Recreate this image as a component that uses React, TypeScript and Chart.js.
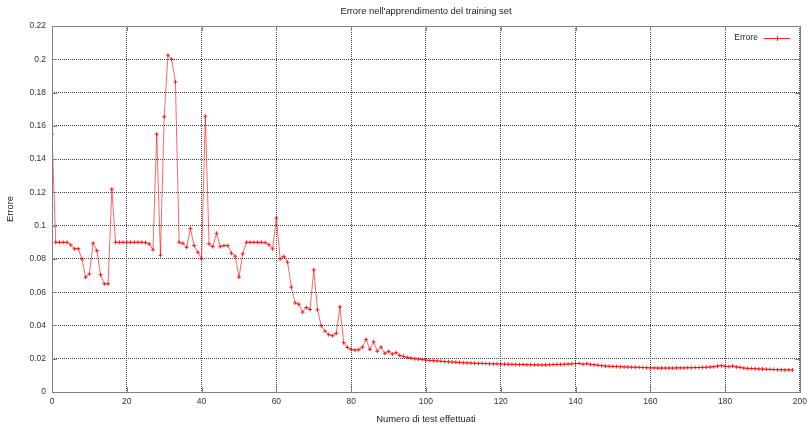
import React, { useEffect, useRef } from "react";
import { Chart, registerables } from "chart.js";

Chart.register(...registerables);

const chartTitle = "Errore nell'apprendimento del training set";
const xAxisTitle = "Numero di test effettuati";
const yAxisTitle = "Errore";
const seriesName = "Errore";

const xTickValues = [0, 20, 40, 60, 80, 100, 120, 140, 160, 180, 200];
const yTickValues = [0, 0.02, 0.04, 0.06, 0.08, 0.1, 0.12, 0.14, 0.16, 0.18, 0.2, 0.22];

// tests 0-49
const errorsA = [
  0.155, 0.09, 0.09, 0.09, 0.09, 0.0884, 0.086, 0.0862, 0.08, 0.069,
  0.071, 0.0895, 0.085, 0.0705, 0.065, 0.065, 0.122, 0.09, 0.09, 0.09,
  0.09, 0.09, 0.09, 0.09, 0.09, 0.0898, 0.089, 0.0855, 0.155, 0.0822,
  0.1654, 0.2025, 0.2, 0.1864, 0.09, 0.0894, 0.087, 0.0984, 0.088, 0.084,
  0.08, 0.1658, 0.089, 0.0874, 0.0954, 0.0874, 0.088, 0.088, 0.0834, 0.0816,
];
// tests 50-99
const errorsB = [
  0.069, 0.083, 0.09, 0.09, 0.09, 0.09, 0.09, 0.0898, 0.0885, 0.086,
  0.1046, 0.08, 0.0815, 0.078, 0.063, 0.0535, 0.0528, 0.048, 0.0508, 0.0496,
  0.0734, 0.0494, 0.0398, 0.0366, 0.0345, 0.0338, 0.0352, 0.0512, 0.0296, 0.0268,
  0.0256, 0.0252, 0.0254, 0.027, 0.0316, 0.0256, 0.0302, 0.0245, 0.027, 0.0232,
  0.0244, 0.0228, 0.0236, 0.022, 0.0214, 0.0208, 0.0204, 0.02, 0.0198, 0.0195,
];
// tests 100-149
const errorsC = [
  0.0192, 0.019, 0.0188, 0.0187, 0.0185, 0.0183, 0.0182, 0.018, 0.0179, 0.0178,
  0.0176, 0.0175, 0.0174, 0.0173, 0.0172, 0.0172, 0.0171, 0.017, 0.0169, 0.0169,
  0.0168, 0.0167, 0.0167, 0.0166, 0.0166, 0.0165, 0.0165, 0.0164, 0.0164, 0.0163,
  0.0163, 0.0162, 0.0163, 0.0164, 0.0165, 0.0166, 0.0166, 0.0167, 0.0168, 0.0169,
  0.0171, 0.0172, 0.0167, 0.017, 0.0166, 0.0164, 0.0161, 0.0158, 0.0156, 0.0155,
];
// tests 150-198
const errorsD = [
  0.0154, 0.0153, 0.0152, 0.0151, 0.015, 0.0149, 0.0149, 0.0148, 0.0147, 0.0146,
  0.0145, 0.0145, 0.0144, 0.0144, 0.0144, 0.0144, 0.0144, 0.0145, 0.0145, 0.0145,
  0.0146, 0.0146, 0.0147, 0.0147, 0.0148, 0.0149, 0.015, 0.0152, 0.0156, 0.0158,
  0.0155, 0.0153, 0.0156, 0.015, 0.0148, 0.0144, 0.0142, 0.0141, 0.014, 0.0139,
  0.0138, 0.0137, 0.0136, 0.0135, 0.0134, 0.0134, 0.0133, 0.0133, 0.0132,
];

const errors = [...errorsA, ...errorsB, ...errorsC, ...errorsD];

const FONT = "'Liberation Sans', 'DejaVu Sans', sans-serif";
const RED = "rgba(255,0,0,0.85)";

function fmt(v: number): string {
  return String(Number(v.toFixed(2)));
}

const framePlugin = {
  id: "gnuplotFrame",
  afterDraw(chart: any) {
    const { ctx, chartArea } = chart;
    const { left, right, top, bottom } = chartArea;
    ctx.save();
    ctx.strokeStyle = "#808080";
    ctx.lineWidth = 1;
    ctx.setLineDash([]);
    ctx.strokeRect(Math.round(left) + 0.5, Math.round(top) + 0.5, Math.round(right - left), Math.round(bottom - top));
    const xs = chart.scales.x;
    const ys = chart.scales.y;
    ctx.beginPath();
    xTickValues.forEach((v) => {
      const px = Math.round(xs.getPixelForValue(v)) + 0.5;
      ctx.moveTo(px, bottom);
      ctx.lineTo(px, bottom - 5);
      ctx.moveTo(px, top);
      ctx.lineTo(px, top + 5);
    });
    yTickValues.forEach((v) => {
      const py = Math.round(ys.getPixelForValue(v)) + 0.5;
      ctx.moveTo(left, py);
      ctx.lineTo(left + 5, py);
      ctx.moveTo(right, py);
      ctx.lineTo(right - 5, py);
    });
    ctx.stroke();
    // title
    ctx.fillStyle = "#222";
    ctx.font = `9.4px ${FONT}`;
    ctx.textAlign = "center";
    ctx.textBaseline = "middle";
    ctx.fillText(chartTitle, (left + right) / 2, 11);
    // legend
    const ly = top + 12;
    ctx.font = `8.5px ${FONT}`;
    ctx.textAlign = "right";
    ctx.fillText(seriesName, right - 42, ly);
    ctx.strokeStyle = RED;
    ctx.beginPath();
    ctx.moveTo(right - 36, ly + 0.5);
    ctx.lineTo(right - 10, ly + 0.5);
    const cx = right - 23;
    ctx.moveTo(cx + 0.5, ly - 2);
    ctx.lineTo(cx + 0.5, ly + 3);
    ctx.stroke();
    ctx.restore();
  },
};

export default function App() {
  const canvasRef = useRef<HTMLCanvasElement | null>(null);

  useEffect(() => {
    if (!canvasRef.current) return;
    const points = errors.map((v, i) => ({ x: i, y: v }));
    const chart = new Chart(canvasRef.current, {
      type: "line",
      data: {
        datasets: [
          {
            label: seriesName,
            data: points,
            borderColor: "rgba(255,0,0,0.6)",
            borderWidth: 1,
            pointStyle: "cross",
            pointRadius: 2,
            pointBorderColor: RED,
            pointBorderWidth: 1,
            pointBackgroundColor: RED,
            tension: 0,
            fill: false,
          },
        ],
      },
      options: {
        animation: false,
        responsive: false,
        devicePixelRatio: 1,
        layout: { padding: { top: 26, right: 12, left: 0, bottom: 0 } },
        plugins: {
          legend: { display: false },
          title: { display: false },
          tooltip: { enabled: false },
        },
        scales: {
          x: {
            type: "linear",
            min: 0,
            max: 200,
            afterFit: (s: any) => {
              s.height = 33;
            },
            afterBuildTicks: (s: any) => {
              s.ticks = xTickValues.map((v) => ({ value: v }));
            },
            ticks: {
              color: "#333",
              font: { family: FONT, size: 8.5 },
              padding: 5,
              maxRotation: 0,
              callback: (v: any) => String(v),
            },
            grid: {
              color: "#444",
              lineWidth: 1,
              drawTicks: false,
            },
            border: { display: false, dash: [1, 1] },
            title: {
              display: true,
              text: xAxisTitle,
              color: "#222",
              font: { family: FONT, size: 9.4 },
              padding: { top: 0, bottom: 0 },
            },
          },
          y: {
            type: "linear",
            min: 0,
            max: 0.22,
            afterFit: (s: any) => {
              s.width = 52;
            },
            afterBuildTicks: (s: any) => {
              s.ticks = yTickValues.map((v) => ({ value: v }));
            },
            ticks: {
              color: "#333",
              font: { family: FONT, size: 8.5 },
              padding: 6,
              callback: (v: any) => fmt(Number(v)),
            },
            grid: {
              color: "#444",
              lineWidth: 1,
              drawTicks: false,
            },
            border: { display: false, dash: [1, 1] },
            title: {
              display: true,
              text: yAxisTitle,
              color: "#222",
              font: { family: FONT, size: 9.4 },
              padding: { top: 5, bottom: 0 },
            },
          },
        },
      },
      plugins: [framePlugin],
    });
    return () => chart.destroy();
  }, []);

  return (
    <div style={{ position: "absolute", left: 0, top: 0, width: 812, height: 425, background: "#fff" }}>
      <canvas ref={canvasRef} width={812} height={425} style={{ display: "block", width: 812, height: 425 }} />
    </div>
  );
}
